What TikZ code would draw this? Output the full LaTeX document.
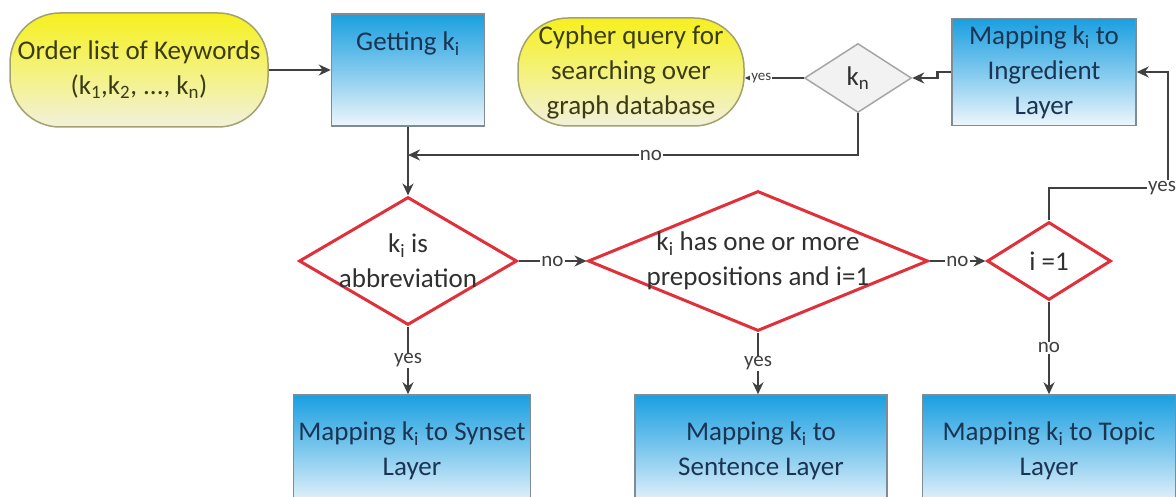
\documentclass[tikz,border=0pt]{standalone}
\usepackage{fontspec}
\setmainfont{Carlito}
\usetikzlibrary{shapes.geometric, arrows.meta}
\definecolor{boxtop}{HTML}{1A9FE0}
\definecolor{boxmid}{HTML}{80C9EE}
\definecolor{boxbot}{HTML}{EEF6FB}
\definecolor{boxline}{HTML}{7F8C95}
\definecolor{boxtext}{HTML}{1B3452}
\definecolor{termtop}{HTML}{F6F01E}
\definecolor{termmid}{HTML}{F4F27C}
\definecolor{termbot}{HTML}{F2F1DC}
\definecolor{termline}{HTML}{A3A26E}
\definecolor{termtext}{HTML}{3C3C14}
\definecolor{decred}{HTML}{E0303A}
\definecolor{chkline}{HTML}{A6A6A6}
\definecolor{chkfill}{HTML}{F2F2F2}
\definecolor{dectext}{HTML}{303030}
\definecolor{flowgray}{HTML}{404040}
\newcommand{\ksub}[1]{k\textsubscript{#1}}
\tikzset{
  txt/.style={font=\fontsize{27}{35}\selectfont, align=center},
  layer/.style={txt, draw=boxline, line width=1.5pt, top color=boxtop, bottom color=boxbot, middle color=boxmid, text=boxtext, inner sep=0pt},
  terminal/.style={txt, rounded corners=50pt, draw=termline, line width=1.5pt, top color=termtop, bottom color=termbot, middle color=termmid, text=termtext, inner sep=0pt},
  decision/.style={txt, diamond, draw=decred, line width=3pt, fill=white, text=dectext, inner sep=-10pt},
  check/.style={txt, diamond, draw=chkline, line width=1.5pt, fill=chkfill, text=dectext, inner sep=-4pt},
  flow/.style={draw=flowgray, line width=2.7pt, -{Stealth[length=12pt,width=11pt]}},
  lbl/.style={font=\fontsize{21}{24}\selectfont, text=flowgray, fill=white, inner sep=1pt}
}
\begin{document}
\begin{tikzpicture}[x=1pt, y=-1pt]
\useasboundingbox (0,0) rectangle (1176,497);
\node[terminal, minimum width=258pt, minimum height=114pt] (start) at (139,70) {Order list of Keywords\\(\ksub{1},\ksub{2}, ..., \ksub{n})};
\node[layer, minimum width=153pt, text height=37pt, text depth=75pt] (get) at (408,70) {Getting \ksub{i}};
\node[terminal, minimum width=226pt, minimum height=108pt] (cypher) at (631,72) {Cypher query for\\searching over\\graph database};
\node[check, minimum width=107pt, minimum height=69pt] (kn) at (858,78) {\ksub{n}};
\node[layer, minimum width=184pt, minimum height=107pt] (ingr) at (1044,72) {Mapping \ksub{i} to\\Ingredient\\Layer};
\node[decision, minimum width=218pt, minimum height=128pt, aspect=1.7] (abbr) at (408,261) {\ksub{i} is\\abbreviation};
\node[decision, minimum width=340pt, minimum height=140pt, aspect=2.4] (prep) at (758,261) {\ksub{i} has one or more\\prepositions and i=1};
\node[decision, minimum width=124pt, minimum height=78pt] (first) at (1049,261) {i =1};
\node[layer, minimum width=237pt, minimum height=112pt] (synset) at (412,451) {Mapping \ksub{i} to Synset\\Layer};
\node[layer, minimum width=252pt, minimum height=112pt] (sentence) at (761,451) {Mapping \ksub{i} to\\Sentence Layer};
\node[layer, minimum width=253pt, minimum height=112pt] (topic) at (1049,451) {Mapping \ksub{i} to Topic\\Layer};

\coordinate (merge) at (408,155);
\coordinate (turn) at (1168,188);
\draw[flow] (start) -- (get);
\draw[flow] (get) -- (abbr);
\draw[flow] (kn.south) |- node[lbl, pos=.73] {no} (merge);
\draw[flow] (ingr.west) -- ++(-14,0) |- (kn.east);
\draw[flow] (kn.west) -- node[lbl, pos=.72, font=\fontsize{15}{17}\selectfont] {yes} (kn.west -| cypher.east);
\draw[flow] (first.north) |- (turn) node[lbl, xshift=-6pt] {yes} |- (ingr.east);
\draw[flow] (abbr) -- node[lbl] {no} (prep);
\draw[flow] (prep) -- node[lbl] {no} (first);
\draw[flow] (abbr.south) -- node[lbl] {yes} (abbr.south |- synset.north);
\draw[flow] (prep.south) -- node[lbl] {yes} (prep.south |- sentence.north);
\draw[flow] (first) -- node[lbl] {no} (topic);
\end{tikzpicture}
\end{document}
